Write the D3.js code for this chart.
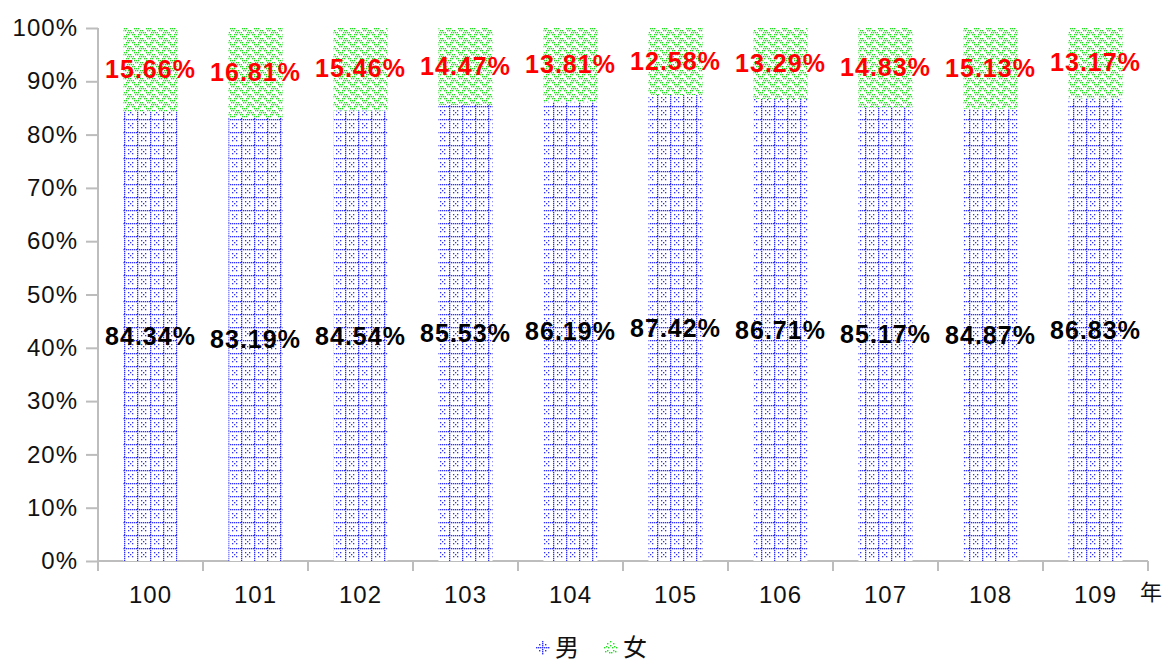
<!DOCTYPE html>
<html>
<head>
<meta charset="utf-8">
<script src="https://cdn.jsdelivr.net/npm/d3@7"></script>
<style>
  body { margin: 0; background: #fff; }
  svg { display: block; font-family: "Liberation Sans", Arial, sans-serif; }
</style>
</head>
<body>
<div id="chart"></div>
<script>
// years (ROC calendar) and percentage share by gender
var years = ["100", "101", "102", "103", "104", "105", "106", "107", "108", "109"];
var male = [84.34, 83.19, 84.54, 85.53, 86.19, 87.42, 86.71, 85.17, 84.87, 86.83];
var female = [15.66, 16.81, 15.46, 14.47, 13.81, 12.58, 13.29, 14.83, 15.13, 13.17];
var yTicks = [0, 10, 20, 30, 40, 50, 60, 70, 80, 90, 100];
var seriesNames = ["男", "女"];

var W = 1163, H = 665;
var margin = {top: 28, right: 15, bottom: 104, left: 98};
var width = W - margin.left - margin.right,
    height = H - margin.top - margin.bottom;

var svg = d3.select("#chart").append("svg")
  .attr("width", W)
  .attr("height", H);

var blue = "#2f2fff", green = "#22dd22";

// patterns: blue dotted grid for male, green dotted zigzag for female
var defs = svg.append("defs");
var pm = defs.append("pattern")
  .attr("id", "patMale")
  .attr("patternUnits", "userSpaceOnUse")
  .attr("width", 13).attr("height", 13);
pm.append("rect").attr("width", 13).attr("height", 13).attr("fill", "#fff");
for (var i = 0; i < 13; i += 2) {
  pm.append("rect").attr("x", i).attr("y", 0).attr("width", 1.3).attr("height", 1.3).attr("fill", blue);
  if (i > 0) pm.append("rect").attr("x", 0).attr("y", i).attr("width", 1.3).attr("height", 1.3).attr("fill", blue);
}
[[4, 4], [8, 4], [4, 8], [8, 8], [6, 6]].forEach(function(p) {
  pm.append("rect").attr("x", p[0]).attr("y", p[1]).attr("width", 1.3).attr("height", 1.3).attr("fill", blue);
});

var pf = defs.append("pattern")
  .attr("id", "patFemale")
  .attr("patternUnits", "userSpaceOnUse")
  .attr("width", 12).attr("height", 8);
pf.append("rect").attr("width", 12).attr("height", 8).attr("fill", "#fff");
[[0, 0], [2, 0], [4, 0], [1, 2], [3, 2], [6, 2], [8, 2], [5, 4], [7, 4], [9, 4], [11, 4], [0, 6], [4, 6], [6, 6], [10, 6]].forEach(function(p) {
  pf.append("rect").attr("x", p[0]).attr("y", p[1]).attr("width", 1.3).attr("height", 1.3).attr("fill", green);
});

var g = svg.append("g")
  .attr("transform", "translate(" + margin.left + "," + margin.top + ")");

var x = d3.scaleBand()
  .domain(years)
  .range([0, width])
  .paddingInner(0.485)
  .paddingOuter(0.2425);

var xb = d3.scaleBand().domain(years).range([0, width]);

var y = d3.scaleLinear()
  .domain([0, 100])
  .range([height, 0]);

var axisColor = "#bdbdbd";

// y axis
var yAxis = g.append("g")
  .call(d3.axisLeft(y).tickValues(yTicks).tickSize(12).tickPadding(8)
    .tickFormat(function(d) { return d + "%"; }));
yAxis.select(".domain").attr("stroke", axisColor).attr("stroke-width", 2).attr("d", "M0,0V" + (height + 10));
yAxis.selectAll(".tick line").attr("stroke", axisColor).attr("stroke-width", 2);
yAxis.selectAll(".tick text").attr("font-size", 24).attr("fill", "#111")
  .attr("letter-spacing", 1)
  .attr("font-family", "Liberation Sans, Arial, sans-serif");

// x axis: ticks on category boundaries
var xAxis = g.append("g")
  .attr("transform", "translate(0," + height + ")");
xAxis.append("line")
  .attr("x1", 0).attr("x2", width)
  .attr("stroke", axisColor).attr("stroke-width", 2);
xAxis.selectAll(".bound")
  .data(years.concat(["end"]))
  .enter().append("line")
  .attr("class", "bound")
  .attr("x1", function(d, i) { return i * xb.step(); })
  .attr("x2", function(d, i) { return i * xb.step(); })
  .attr("y1", 0).attr("y2", 10)
  .attr("stroke", axisColor).attr("stroke-width", 2);
xAxis.selectAll(".xlab")
  .data(years)
  .enter().append("text")
  .attr("class", "xlab")
  .attr("x", function(d) { return xb(d) + xb.bandwidth() / 2; })
  .attr("y", 42)
  .attr("text-anchor", "middle")
  .attr("font-size", 24)
  .attr("letter-spacing", 1)
  .attr("fill", "#111")
  .text(function(d) { return d; });

svg.append("text")
  .attr("x", 1151).attr("y", 600)
  .attr("text-anchor", "middle")
  .attr("font-size", 22)
  .attr("font-family", "Noto Sans CJK TC, sans-serif")
  .attr("fill", "#111")
  .text("年");

// stacked data
var rows = years.map(function(d, i) { return {year: d, male: male[i], female: female[i]}; });

// male bars
g.selectAll(".barM")
  .data(rows)
  .enter().append("rect")
  .attr("class", "barM")
  .attr("x", function(d) { return x(d.year); })
  .attr("width", x.bandwidth())
  .attr("y", function(d) { return y(d.male); })
  .attr("height", function(d) { return y(0) - y(d.male); })
  .attr("fill", "url(#patMale)");

// female bars
g.selectAll(".barF")
  .data(rows)
  .enter().append("rect")
  .attr("class", "barF")
  .attr("x", function(d) { return x(d.year); })
  .attr("width", x.bandwidth())
  .attr("y", function(d) { return y(d.male + d.female); })
  .attr("height", function(d) { return y(d.male) - y(d.male + d.female); })
  .attr("fill", "url(#patFemale)");

// value labels
g.selectAll(".labM")
  .data(rows)
  .enter().append("text")
  .attr("class", "labM")
  .attr("x", function(d) { return x(d.year) + x.bandwidth() / 2; })
  .attr("y", function(d) { return y(d.male / 2); })
  .attr("dy", "0.36em")
  .attr("text-anchor", "middle")
  .attr("font-size", 25)
  .attr("letter-spacing", 1)
  .attr("font-weight", "bold")
  .attr("fill", "#000")
  .text(function(d) { return d.male.toFixed(2) + "%"; });

g.selectAll(".labF")
  .data(rows)
  .enter().append("text")
  .attr("class", "labF")
  .attr("x", function(d) { return x(d.year) + x.bandwidth() / 2; })
  .attr("y", function(d) { return y(d.male + d.female / 2); })
  .attr("dy", "0.33em")
  .attr("text-anchor", "middle")
  .attr("font-size", 25)
  .attr("letter-spacing", 1)
  .attr("font-weight", "bold")
  .attr("fill", "#ff0000")
  .text(function(d) { return d.female.toFixed(2) + "%"; });

// legend: small dotted markers (cross for male, star for female)
var legend = svg.append("g").attr("transform", "translate(535,647)");
var legItems = legend.selectAll(".leg")
  .data(seriesNames)
  .enter().append("g")
  .attr("class", "leg")
  .attr("transform", function(d, i) { return "translate(" + (i * 68) + ",0)"; });
var crossDots = [[-6, 0], [-4, 0], [-2, 0], [0, 0], [2, 0], [4, 0], [6, 0], [0, -6], [0, -4], [0, -2], [0, 2], [0, 4], [0, 6], [-3, -3], [3, -3], [-3, 3], [3, 3]];
var starDots = [[-6, 0], [-4, -1], [-2, 0], [0, -2], [2, 0], [4, -1], [6, 0], [-3, -4], [3, -4], [0, -6], [-3, 3], [3, 3], [-1, 5], [1, 5], [-5, 4], [5, 4]];
legItems.each(function(d, i) {
  d3.select(this).selectAll("rect")
    .data(i === 0 ? crossDots : starDots)
    .enter().append("rect")
    .attr("x", function(p) { return 7 + p[0]; })
    .attr("y", function(p) { return p[1]; })
    .attr("width", 1.4).attr("height", 1.4)
    .attr("fill", i === 0 ? blue : green);
});
legItems.append("text")
  .attr("x", 20).attr("y", 0)
  .attr("dy", "0.36em")
  .attr("font-size", 24)
  .attr("font-family", "Noto Sans CJK TC, sans-serif")
  .attr("fill", "#111")
  .text(function(d) { return d; });
</script>
</body>
</html>
